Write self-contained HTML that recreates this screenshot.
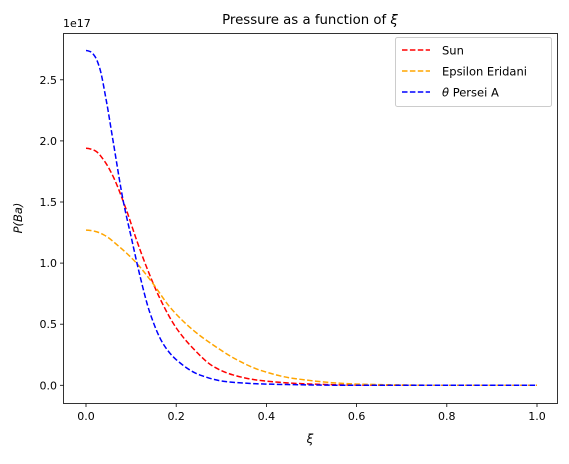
<!DOCTYPE html>
<html><head><meta charset="utf-8"><style>
body{margin:0;background:#fff}
svg text{font-family:"DejaVu Sans","Liberation Sans",sans-serif;fill:#000}
</style></head><body>
<svg id="chart" width="569" height="459" xmlns="http://www.w3.org/2000/svg">
<rect width="569" height="459" fill="#fff"/>
<text x="310" y="24" font-size="13.3" text-anchor="middle">Pressure as a function of <tspan font-style="italic">ξ</tspan></text>
<text x="63" y="27" font-size="11">1e17</text>
<text transform="translate(22,218) rotate(-90)" font-size="11.5" text-anchor="middle" font-style="italic">P(Ba)</text>
<text x="310" y="443" font-size="12" text-anchor="middle" font-style="italic">ξ</text>
<g id="ticks"></g>
<g id="series"></g>
<rect x="63.5" y="33.5" width="494" height="370" fill="none" stroke="#000" stroke-width="0.8"/>
<g>
<rect x="395.5" y="37.5" width="156" height="69" rx="2" fill="#fff" stroke="#ccc"/>
<line x1="402" y1="50" x2="430" y2="50" stroke="red" stroke-width="1.5" stroke-dasharray="5.5,2.4"/>
<text x="442" y="54.5" font-size="11.5">Sun</text>
<line x1="402" y1="71" x2="430" y2="71" stroke="orange" stroke-width="1.5" stroke-dasharray="5.5,2.4"/>
<text x="442" y="75.5" font-size="11.5">Epsilon Eridani</text>
<line x1="402" y1="92" x2="430" y2="92" stroke="blue" stroke-width="1.5" stroke-dasharray="5.5,2.4"/>
<text x="442" y="96.5" font-size="11.5"><tspan font-style="italic">θ</tspan> Persei A</text>
</g>
</svg>
<script>
const xTicks=[0,0.2,0.4,0.6,0.8,1.0];
const xTickLabels=["0.0","0.2","0.4","0.6","0.8","1.0"];
const yTicks=[0,0.5,1.0,1.5,2.0,2.5];
const yTickLabels=["0.0","0.5","1.0","1.5","2.0","2.5"];
const sunX=[0,0.02,0.04,0.06,0.09,0.112,0.134,0.164,0.2,0.238,0.282,0.326,0.385,0.5,0.6,0.8,1.0];
const sunY=[1.94,1.92,1.84,1.71,1.43,1.19,0.97,0.71,0.47,0.30,0.155,0.085,0.04,0.01,0.002,0,0];
const epsX=[0,0.02,0.04,0.075,0.112,0.149,0.186,0.238,0.282,0.334,0.385,0.459,0.6,0.7,0.8,1.0];
const epsY=[1.27,1.26,1.23,1.13,1.0,0.83,0.64,0.45,0.33,0.21,0.125,0.057,0.01,0.003,0,0];
const thX=[0,0.01,0.02,0.03,0.045,0.06,0.083,0.101,0.12,0.142,0.171,0.2,0.252,0.311,0.4,0.6,0.8,1.0];
const thY=[2.74,2.73,2.69,2.6,2.33,2.0,1.5,1.2,0.89,0.59,0.34,0.21,0.085,0.03,0.01,0,0,0];
const NS="http://www.w3.org/2000/svg";
const sx=v=>86+v*451;
const sy=v=>385.3-v*122.2;
const tg=document.getElementById('ticks');
function mk(tag,attrs,parent){const e=document.createElementNS(NS,tag);for(const k in attrs)e.setAttribute(k,attrs[k]);parent.appendChild(e);return e;}
xTicks.forEach((t,i)=>{
 const l=mk('line',{x1:sx(t),x2:sx(t),y1:403.5,y2:407,stroke:'#000','stroke-width':0.8},tg);
 
 
 const tx=mk('text',{x:sx(t),y:420,'font-size':11,'text-anchor':'middle'},tg);
 tx.textContent=xTickLabels[i];
 
 
});
yTicks.forEach((t,i)=>{
 const l=mk('line',{x1:60,x2:63.5,y1:sy(t),y2:sy(t),stroke:'#000','stroke-width':0.8},tg);
 
 
 const tx=mk('text',{x:57,y:sy(t)+4,'font-size':11,'text-anchor':'end'},tg);
 tx.textContent=yTickLabels[i];
 
 
});
function pathFor(xs,ys){
 const n=xs.length,d=[],m=[];
 for(let i=0;i<n-1;i++)d.push((ys[i+1]-ys[i])/(xs[i+1]-xs[i]));
 m[0]=0;m[n-1]=d[n-2];
 for(let i=1;i<n-1;i++){
  if(d[i-1]*d[i]<=0)m[i]=0;
  else{const h0=xs[i]-xs[i-1],h1=xs[i+1]-xs[i];const w1=2*h1+h0,w2=h1+2*h0;m[i]=(w1+w2)/(w1/d[i-1]+w2/d[i]);}
 }
 let p='M'+sx(xs[0])+','+sy(ys[0]);
 for(let i=0;i<n-1;i++){
  const h=xs[i+1]-xs[i];
  p+=' C'+sx(xs[i]+h/3)+','+sy(ys[i]+m[i]*h/3)+' '+sx(xs[i+1]-h/3)+','+sy(ys[i+1]-m[i+1]*h/3)+' '+sx(xs[i+1])+','+sy(ys[i+1]);
 }
 return p;
}
const sg=document.getElementById('series');
const s1=mk('path',{d:pathFor(sunX,sunY),fill:'none',stroke:'red','stroke-width':1.5,'stroke-dasharray':'5.5,2.4'},sg);


const s2=mk('path',{d:pathFor(epsX,epsY),fill:'none',stroke:'orange','stroke-width':1.5,'stroke-dasharray':'5.5,2.4'},sg);


const s3=mk('path',{d:pathFor(thX,thY),fill:'none',stroke:'blue','stroke-width':1.5,'stroke-dasharray':'5.5,2.4'},sg);


</script>
</body></html>
